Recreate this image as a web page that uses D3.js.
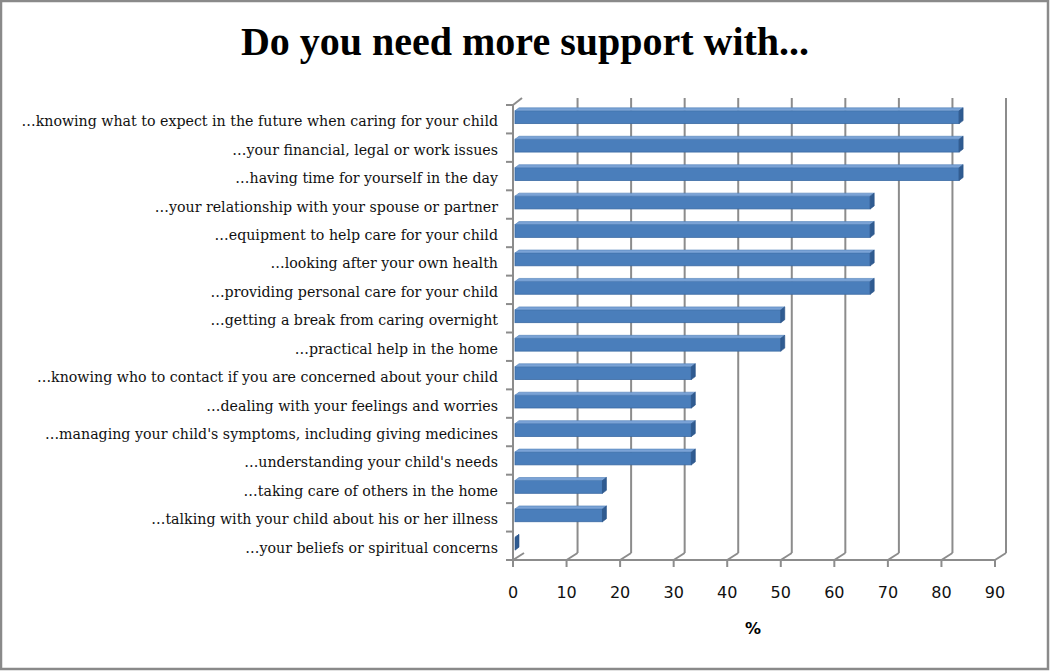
<!DOCTYPE html>
<html>
<head>
<meta charset="utf-8">
<script src="https://cdn.jsdelivr.net/npm/d3@7"></script>
<style>
  body { margin: 0; background: #fff; }
  svg { display: block; }
</style>
</head>
<body>
<div id="chart"></div>
<script>
const categories = [
  '…knowing what to expect in the future when caring for your child',
  '…your financial, legal or work issues',
  '…having time for yourself in the day',
  '…your relationship with your spouse or partner',
  '…equipment to help care for your child',
  '…looking after your own health',
  '…providing personal care for your child',
  '…getting a break from caring overnight',
  '…practical help in the home',
  '…knowing who to contact if you are concerned about your child',
  '…dealing with your feelings and worries',
  '…managing your child\'s symptoms, including giving medicines',
  '…understanding your child\'s needs',
  '…taking care of others in the home',
  '…talking with your child about his or her illness',
  '…your beliefs or spiritual concerns'
];
const values = [83.3, 83.3, 83.3, 66.7, 66.7, 66.7, 66.7, 50, 50, 33.3, 33.3, 33.3, 33.3, 16.7, 16.7, 0];
const xTicks = [0, 10, 20, 30, 40, 50, 60, 70, 80, 90];

const width = 1050, height = 671;
const plotLeft = 513, plotRight = 995, plotTop = 105, plotBottom = 560;
const depth = { dx: 11, dy: -7 };
const barDepth = { dx: 4, dy: -3 };
const gridColor = '#8c8c8c';

const svg = d3.select('#chart').append('svg')
  .attr('width', width)
  .attr('height', height);

// outer frame
svg.append('rect')
  .attr('x', 1).attr('y', 1)
  .attr('width', width - 3).attr('height', height - 3)
  .attr('fill', '#fff')
  .attr('stroke', '#8a8a8a')
  .attr('stroke-width', 2.5);

svg.append('text')
  .attr('x', 525).attr('y', 55)
  .attr('text-anchor', 'middle')
  .attr('font-family', '"Liberation Serif", "Times New Roman", serif')
  .attr('font-weight', 'bold')
  .attr('font-size', 40)
  .text('Do you need more support with...');

const x = d3.scaleLinear().domain([0, 90]).range([plotLeft, plotRight]);
const y = d3.scaleBand().domain(categories).range([plotTop, plotBottom]);

const grid = svg.append('g')
  .attr('stroke', gridColor)
  .attr('stroke-width', 2)
  .attr('fill', 'none');

// back wall gridlines + floor diagonals
xTicks.forEach((t) => {
  if (t > 0) {
    grid.append('line')
      .attr('x1', x(t) + depth.dx).attr('y1', plotTop + depth.dy)
      .attr('x2', x(t) + depth.dx).attr('y2', plotBottom + depth.dy);
  }
  grid.append('line')
    .attr('x1', x(t)).attr('y1', plotBottom)
    .attr('x2', x(t) + depth.dx).attr('y2', plotBottom + depth.dy);
  grid.append('line')
    .attr('x1', x(t)).attr('y1', plotBottom)
    .attr('x2', x(t)).attr('y2', plotBottom + 7);
});

// floor front edge
grid.append('line')
  .attr('x1', x(0)).attr('y1', plotBottom)
  .attr('x2', x(90)).attr('y2', plotBottom);

// left wall
grid.append('line')
  .attr('x1', x(0)).attr('y1', plotTop)
  .attr('x2', x(0)).attr('y2', plotBottom);
grid.append('line')
  .attr('x1', x(0)).attr('y1', plotTop)
  .attr('x2', x(0) + depth.dx - 2).attr('y2', plotTop + depth.dy);

// category ticks
const catEdges = categories.map((c) => y(c)).concat([plotBottom]);
catEdges.forEach((e) => {
  grid.append('line')
    .attr('x1', x(0) - 7).attr('y1', e)
    .attr('x2', x(0)).attr('y2', e);
});

// bars
const barH = y.bandwidth() * 0.45;
const bars = svg.append('g').selectAll('g')
  .data(categories)
  .join('g')
  .attr('transform', (d) => `translate(0, ${y(d) + y.bandwidth() / 2 - 2 - barH / 2})`);

const x0 = x(0) + 2;
bars.append('rect')
  .attr('x', x0)
  .attr('y', 0)
  .attr('width', (d, i) => Math.max(0, x(values[i]) - x0))
  .attr('height', barH)
  .attr('fill', '#4a7ebb')
  .attr('stroke', '#3b6aa3')
  .attr('stroke-width', 0.8);

bars.append('path')
  .attr('d', (d, i) => {
    const xe = Math.max(x0, x(values[i]));
    return `M${x0},0 L${x0 + barDepth.dx},${barDepth.dy} L${xe + barDepth.dx},${barDepth.dy} L${xe},0 Z`;
  })
  .attr('fill', '#7ba3d6')
  .attr('stroke', '#4f7fb8')
  .attr('stroke-width', 0.6);

bars.append('path')
  .attr('d', (d, i) => {
    const xe = Math.max(x0, x(values[i]));
    return `M${xe},0 L${xe + barDepth.dx},${barDepth.dy} L${xe + barDepth.dx},${barH + barDepth.dy} L${xe},${barH} Z`;
  })
  .attr('fill', '#2f5b91')
  .attr('stroke', '#2a5286')
  .attr('stroke-width', 0.6);

// category labels
svg.append('g').selectAll('text')
  .data(categories)
  .join('text')
  .attr('x', 498)
  .attr('y', (d) => y(d) + y.bandwidth() / 2 + 7)
  .attr('text-anchor', 'end')
  .attr('font-family', '"DejaVu Serif", "Liberation Serif", serif')
  .attr('font-size', 14.2)
  .attr('fill', '#111')
  .text((d) => d);

// x tick labels
svg.append('g').selectAll('text')
  .data(xTicks)
  .join('text')
  .attr('x', (d) => x(d))
  .attr('y', 598)
  .attr('text-anchor', 'middle')
  .attr('font-family', '"DejaVu Sans", Verdana, sans-serif')
  .attr('font-size', 16)
  .attr('fill', '#111')
  .text((d) => d);

svg.append('text')
  .attr('x', 753).attr('y', 634)
  .attr('text-anchor', 'middle')
  .attr('font-family', '"DejaVu Sans", Verdana, sans-serif')
  .attr('font-weight', 'bold')
  .attr('font-size', 16)
  .text('%');
</script>
</body>
</html>
